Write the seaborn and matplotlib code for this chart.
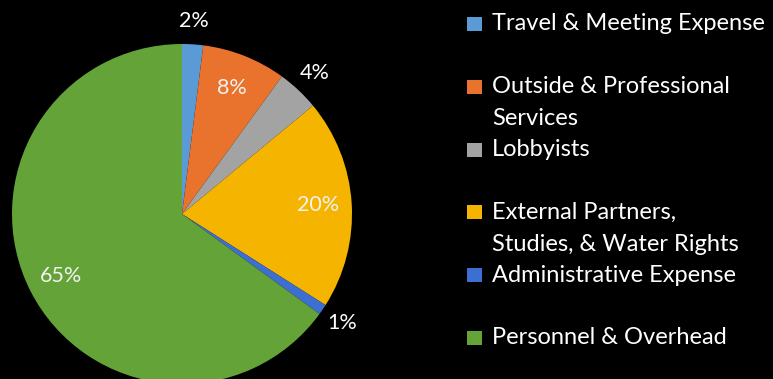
import matplotlib
matplotlib.use("Agg")
import matplotlib.pyplot as plt
from matplotlib.patches import Rectangle
import numpy as np
import seaborn as sns

# Budget share by category (percent)
categories = [
    "Travel & Meeting Expense",
    "Outside & Professional\nServices",
    "Lobbyists",
    "External Partners,\nStudies, & Water Rights",
    "Administrative Expense",
    "Personnel & Overhead",
]
shares = [2, 8, 4, 20, 1, 65]
colors = ["#5B9BD5", "#E9722C", "#A3A3A3", "#F5B400", "#3C6FD1", "#64A337"]
# label placement: inside the slice or just outside the rim
label_inside = [False, True, False, True, False, True]

sns.set_theme(style="dark", rc={
    "figure.facecolor": "black",
    "axes.facecolor": "black",
    "savefig.facecolor": "black",
})
plt.rcParams["font.family"] = ["Lato", "DejaVu Sans"]

W, H, DPI = 773, 379, 100
fig = plt.figure(figsize=(W / DPI, H / DPI), dpi=DPI)

# pie centre and radius in pixels
cx, cy, r = 182, 214, 170
ax = fig.add_axes([(cx - r) / W, (H - cy - r) / H, 2 * r / W, 2 * r / H])
wedges, _ = ax.pie(shares, colors=colors, startangle=90, counterclock=False,
                   radius=1, wedgeprops=dict(linewidth=0))
ax.set_xlim(-1, 1)
ax.set_ylim(-1, 1)
ax.set_aspect("auto")
ax.axis("off")

for w, val, inside in zip(wedges, shares, label_inside):
    mid = np.deg2rad((w.theta1 + w.theta2) / 2)
    d = 0.80 if inside else 1.14
    ax.text(d * np.cos(mid), d * np.sin(mid), f"{val}%", ha="center", va="center",
            fontsize=15.5, color="#F2F2F2" if inside else "white", clip_on=False)

# legend, drawn as stacked entries on the right
line_h = 32
entry_h = 62.8
for i, (lab, col) in enumerate(zip(categories, colors)):
    y = 24 + i * entry_h
    fig.patches.append(Rectangle(((467) / W, 1 - (y + 7) / H), 15 / W, 14 / H,
                                 transform=fig.transFigure, facecolor=col,
                                 edgecolor="none"))
    for k, line in enumerate(lab.split("\n")):
        fig.text(492 / W, 1 - (y + k * line_h) / H, line, ha="left",
                 va="center", fontsize=17, color="white")

fig.savefig("out.png", dpi=DPI, facecolor="black")
